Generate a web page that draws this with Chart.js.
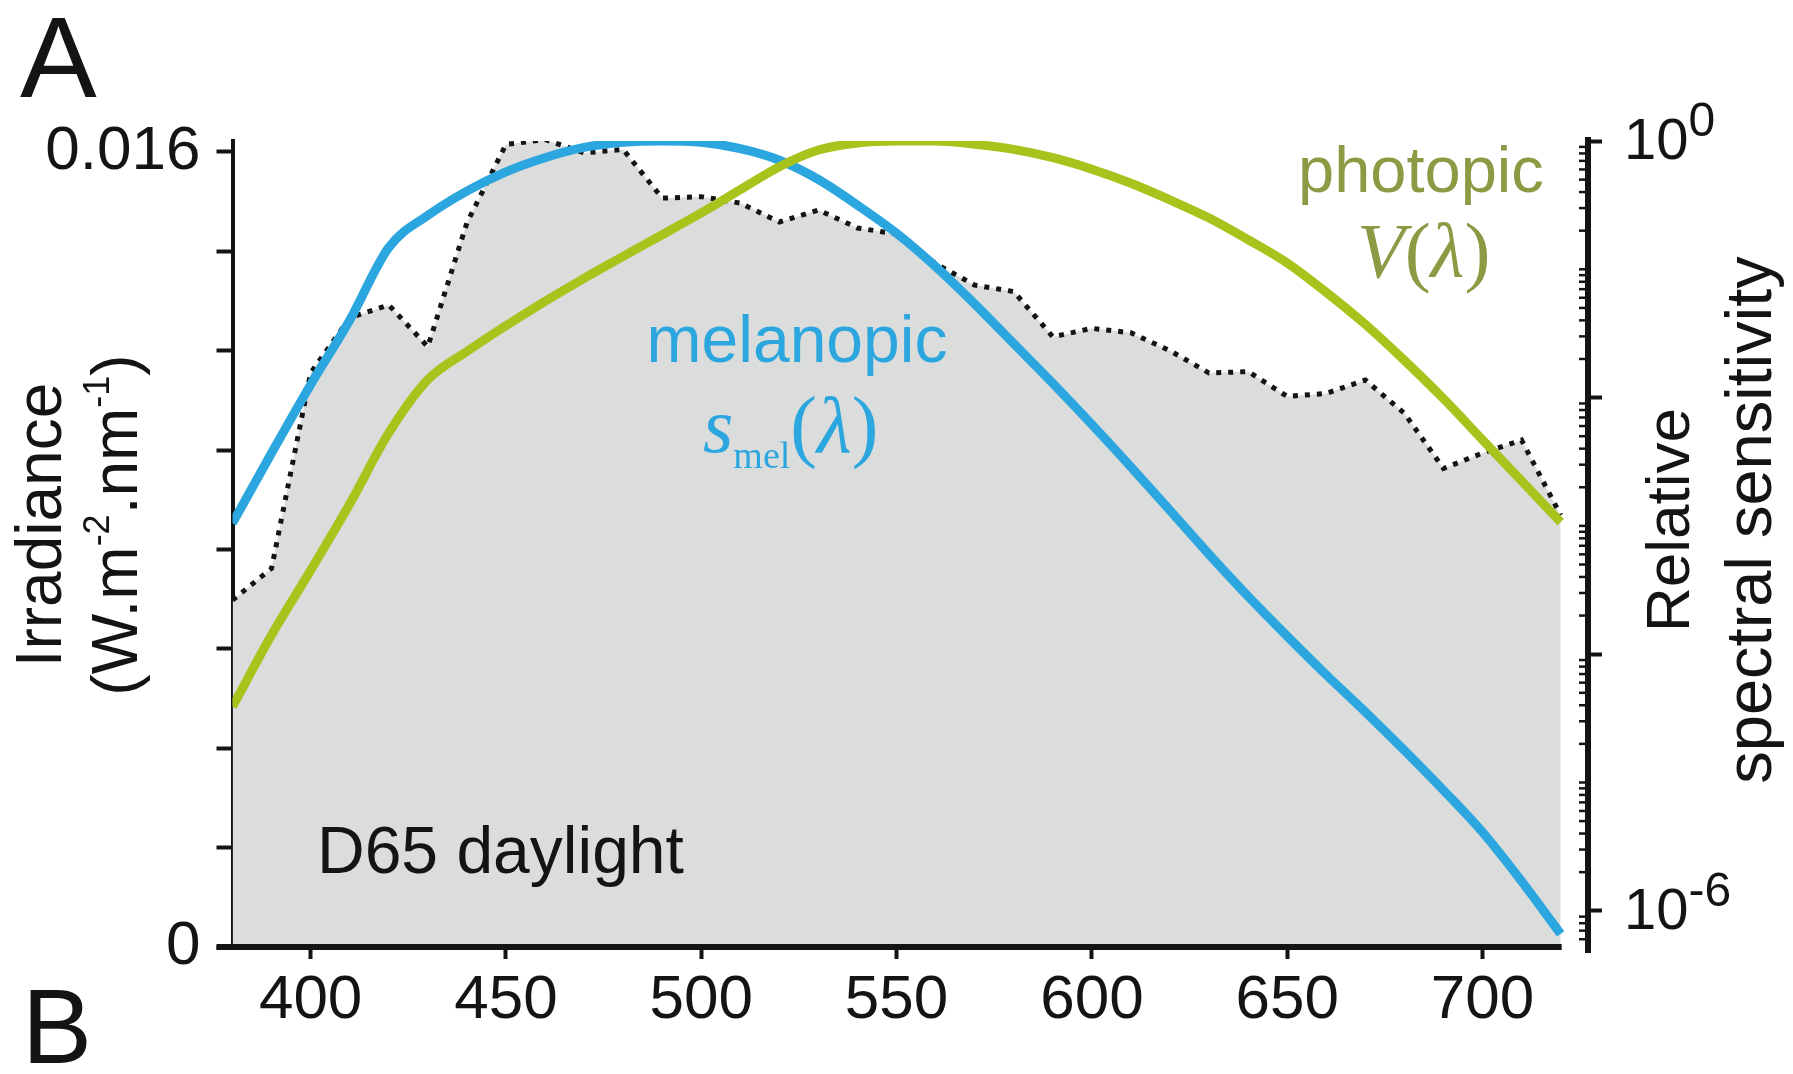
<!DOCTYPE html>
<html>
<head>
<meta charset="utf-8">
<script src="https://cdn.jsdelivr.net/npm/chart.js@4.4.1/dist/chart.umd.min.js"></script>
<style>
  html, body { margin: 0; padding: 0; background: #fff; }
  #wrap { width: 1793px; height: 1074px; }
</style>
</head>
<body>
<div id="wrap"><canvas id="chart" width="1793" height="1074"></canvas></div>
<script>
// values, 10 nm steps
const wavelengths = [380, 390, 400, 410, 420, 430, 440, 450, 460, 470, 480, 490, 500, 510, 520, 530, 540,
  550, 560, 570, 580, 590, 600, 610, 620, 630, 640, 650, 660, 670, 680, 690, 700, 710, 720];

// D65 daylight irradiance (W.m-2.nm-1), left axis
const d65Irradiance = [0.00698, 0.00762, 0.01155, 0.01266, 0.01292, 0.01208, 0.01457, 0.01615, 0.01625,
  0.01598, 0.01605, 0.01507, 0.01510, 0.01497, 0.01459, 0.01483, 0.01447, 0.01435, 0.01375, 0.01332,
  0.01319, 0.01228, 0.01245, 0.01236, 0.01200, 0.01155, 0.01158, 0.01108, 0.01114, 0.01141, 0.01074,
  0.00963, 0.00994, 0.01020, 0.00869];

// relative spectral sensitivity, right (log) axis
const melanopicSens = [1.05e-3, 3.7e-3, 1.26e-2, 4.0e-2, 0.148, 0.263, 0.407, 0.575, 0.741, 0.891, 0.977,
  1.0, 0.977, 0.871, 0.708, 0.501, 0.316, 0.191, 0.105, 0.0537, 0.0263, 0.0129, 6.17e-3, 2.88e-3, 1.32e-3,
  6.0e-4, 2.82e-4, 1.38e-4, 6.9e-5, 3.55e-5, 1.78e-5, 8.7e-6, 4.1e-6, 1.7e-6, 6.6e-7];

const photopicSens = [3.9e-5, 1.41e-4, 4.5e-4, 1.48e-3, 5.3e-3, 0.0138, 0.0229, 0.0363, 0.0562, 0.0851,
  0.126, 0.186, 0.275, 0.417, 0.631, 0.851, 0.966, 1.0, 1.0, 0.944, 0.861, 0.741, 0.603, 0.468, 0.347,
  0.251, 0.170, 0.112, 0.0661, 0.0372, 0.0195, 9.8e-3, 4.68e-3, 2.24e-3, 1.07e-3];

const xTickValues = [400, 450, 500, 550, 600, 650, 700];
const leftTickValues = [0, 0.002, 0.004, 0.006, 0.008, 0.010, 0.012, 0.014, 0.016];
const leftTickLabels = ["0", "0.016"];
const rightMajorTicks = [1, 1e-2, 1e-4, 1e-6];
const rightLabelExponents = ["0", "-6"];

const INK = "#141414";
const BLUE = "#2ba6df";
const GREEN = "#a9c31d";
const GREY = "#dbdcdc";
const SANS = "'Liberation Sans', Arial, sans-serif";
const SERIF = "'Liberation Serif', 'Times New Roman', serif";

function el(id) {
  return document.getElementById(id);
}

function points(values) {
  return wavelengths.map((w, i) => ({ x: w, y: values[i] }));
}

function near(a, b) {
  return Math.abs(a - b) < 1e-9;
}

// draw a row of text pieces (for sub/superscripts)
function drawRuns(ctx, runs, x, y, align) {
  let total = 0;
  for (const r of runs) {
    ctx.font = r.font;
    total += ctx.measureText(r.text).width;
  }
  let cx = align === "center" ? x - total / 2 : x;
  for (const r of runs) {
    ctx.font = r.font;
    ctx.fillStyle = r.color || INK;
    ctx.fillText(r.text, cx, y + (r.dy || 0));
    cx += ctx.measureText(r.text).width;
  }
}

const annotate = {
  id: "annotate",
  afterDraw(chart) {
    const { ctx, chartArea: area, scales } = chart;
    const yR = scales.yR;
    ctx.save();
    ctx.textBaseline = "alphabetic";
    ctx.textAlign = "left";

    // x axis line stops at the last wavelength
    ctx.strokeStyle = INK;
    ctx.lineWidth = 6;
    ctx.beginPath();
    ctx.moveTo(area.left - 16, area.bottom);
    ctx.lineTo(scales.x.getPixelForValue(wavelengths[wavelengths.length - 1]) + 1, area.bottom);
    ctx.stroke();

    // right axis bar a bit longer than the plot, minor ticks inward
    ctx.beginPath();
    ctx.moveTo(area.right, area.top - 4);
    ctx.lineTo(area.right, area.bottom + 6);
    ctx.stroke();
    ctx.lineWidth = 2.5;
    for (let k = -7; k <= 0; k++) {
      for (let m = 1; m <= 9; m++) {
        const v = m * Math.pow(10, k);
        if (v <= yR.min || v >= yR.max) continue;
        if (rightMajorTicks.some((t) => near(t, v))) continue;
        const y = yR.getPixelForValue(v);
        ctx.beginPath();
        ctx.moveTo(area.right - 9, y);
        ctx.lineTo(area.right, y);
        ctx.stroke();
      }
    }

    // right axis labels 10^0 and 10^-6
    [rightMajorTicks[0], rightMajorTicks[3]].forEach((v, i) => {
      const y = yR.getPixelForValue(v);
      drawRuns(ctx, [
        { text: "10", font: `58px ${SANS}` },
        { text: rightLabelExponents[i], font: `48px ${SANS}`, dy: -23 },
      ], area.right + 36, y + 18, "left");
    });

    // axis titles
    ctx.save();
    ctx.translate(61, 525);
    ctx.rotate(-Math.PI / 2);
    drawRuns(ctx, [{ text: "Irradiance", font: `64px ${SANS}` }], 0, 0, "center");
    drawRuns(ctx, [
      { text: "(W.m", font: `64px ${SANS}` },
      { text: "-2", font: `36px ${SANS}`, dy: -28 },
      { text: ".nm", font: `64px ${SANS}` },
      { text: "-1", font: `36px ${SANS}`, dy: -28 },
      { text: ")", font: `64px ${SANS}` },
    ], 0, 76, "center");
    ctx.restore();

    ctx.save();
    ctx.translate(1689, 520);
    ctx.rotate(-Math.PI / 2);
    drawRuns(ctx, [{ text: "Relative", font: `62px ${SANS}` }], 0, 0, "center");
    drawRuns(ctx, [{ text: "spectral sensitivity", font: `65px ${SANS}` }], 0, 82, "center");
    ctx.restore();

    // panel letters
    drawRuns(ctx, [{ text: "A", font: `115px ${SANS}` }], 20, 97, "left");
    drawRuns(ctx, [{ text: "B", font: `105px ${SANS}` }], 22, 1063, "left");

    // curve labels
    drawRuns(ctx, [{ text: "melanopic", font: `66px ${SANS}`, color: BLUE }], 797, 362, "center");
    drawRuns(ctx, [
      { text: "s", font: `italic 78px ${SERIF}`, color: BLUE },
      { text: "mel", font: `38px ${SERIF}`, color: BLUE, dy: 16 },
      { text: "(", font: `80px ${SERIF}`, color: BLUE },
      { text: "λ", font: `italic 80px ${SERIF}`, color: BLUE },
      { text: ")", font: `80px ${SERIF}`, color: BLUE },
    ], 703, 452, "left");

    const olive = "#8c9a44";
    drawRuns(ctx, [{ text: "photopic", font: `65px ${SANS}`, color: olive }], 1298, 192, "left");
    drawRuns(ctx, [
      { text: "V", font: `italic 78px ${SERIF}`, color: olive },
      { text: "(", font: `78px ${SERIF}`, color: olive },
      { text: "λ", font: `italic 78px ${SERIF}`, color: olive },
      { text: ")", font: `78px ${SERIF}`, color: olive },
    ], 1357, 277, "left");

    drawRuns(ctx, [{ text: "D65 daylight", font: `66px ${SANS}` }], 317, 873, "left");
    ctx.restore();
  },
};

const tickFont = { family: SANS, size: 62 };

new Chart(el("chart").getContext("2d"), {
  type: "line",
  data: {
    datasets: [
      {
        label: "D65 daylight",
        data: points(d65Irradiance),
        yAxisID: "yL",
        order: 3,
        borderColor: INK,
        borderWidth: 5,
        borderDash: [5, 7],
        borderCapStyle: "butt",
        backgroundColor: GREY,
        fill: "origin",
        tension: 0,
        pointRadius: 0,
      },
      {
        label: "melanopic",
        data: points(melanopicSens),
        yAxisID: "yR",
        order: 2,
        borderColor: BLUE,
        borderWidth: 9,
        cubicInterpolationMode: "monotone",
        fill: false,
        pointRadius: 0,
      },
      {
        label: "photopic",
        data: points(photopicSens),
        yAxisID: "yR",
        order: 1,
        borderColor: GREEN,
        borderWidth: 9,
        cubicInterpolationMode: "monotone",
        fill: false,
        pointRadius: 0,
      },
    ],
  },
  options: {
    responsive: false,
    animation: false,
    devicePixelRatio: 1,
    layout: { padding: { top: 141, left: 0, right: 0, bottom: 0 } },
    plugins: { legend: { display: false }, tooltip: { enabled: false } },
    scales: {
      x: {
        type: "linear",
        position: "bottom",
        min: 380,
        max: 727,
        afterBuildTicks: (s) => { s.ticks = xTickValues.map((v) => ({ value: v })); },
        afterFit: (s) => { s.height = 127; },
        ticks: { font: tickFont, color: INK, padding: 5, maxRotation: 0, autoSkip: false },
        grid: { drawOnChartArea: false, tickLength: 12, tickWidth: 4, tickColor: INK },
        border: { display: false },
      },
      yL: {
        type: "linear",
        position: "left",
        min: 0,
        max: 0.01622,
        afterBuildTicks: (s) => { s.ticks = leftTickValues.map((v) => ({ value: v })); },
        afterFit: (s) => { s.width = 232.5; },
        ticks: {
          font: tickFont,
          color: INK,
          padding: 16,
          autoSkip: false,
          callback: (v) => leftTickLabels.find((t) => near(parseFloat(t), v)) || "",
        },
        grid: { drawOnChartArea: false, tickLength: 16, tickWidth: 4, tickColor: INK },
        border: { color: INK, width: 4 },
      },
      yR: {
        type: "logarithmic",
        position: "right",
        min: 5.22e-7,
        max: 1,
        afterBuildTicks: (s) => { s.ticks = rightMajorTicks.map((v) => ({ value: v })); },
        afterFit: (s) => { s.width = 205; },
        ticks: { display: false },
        grid: { drawOnChartArea: false, tickLength: 14, tickWidth: 4, tickColor: INK },
        border: { color: INK, width: 6 },
      },
    },
  },
  plugins: [annotate],
});
</script>
</body>
</html>
